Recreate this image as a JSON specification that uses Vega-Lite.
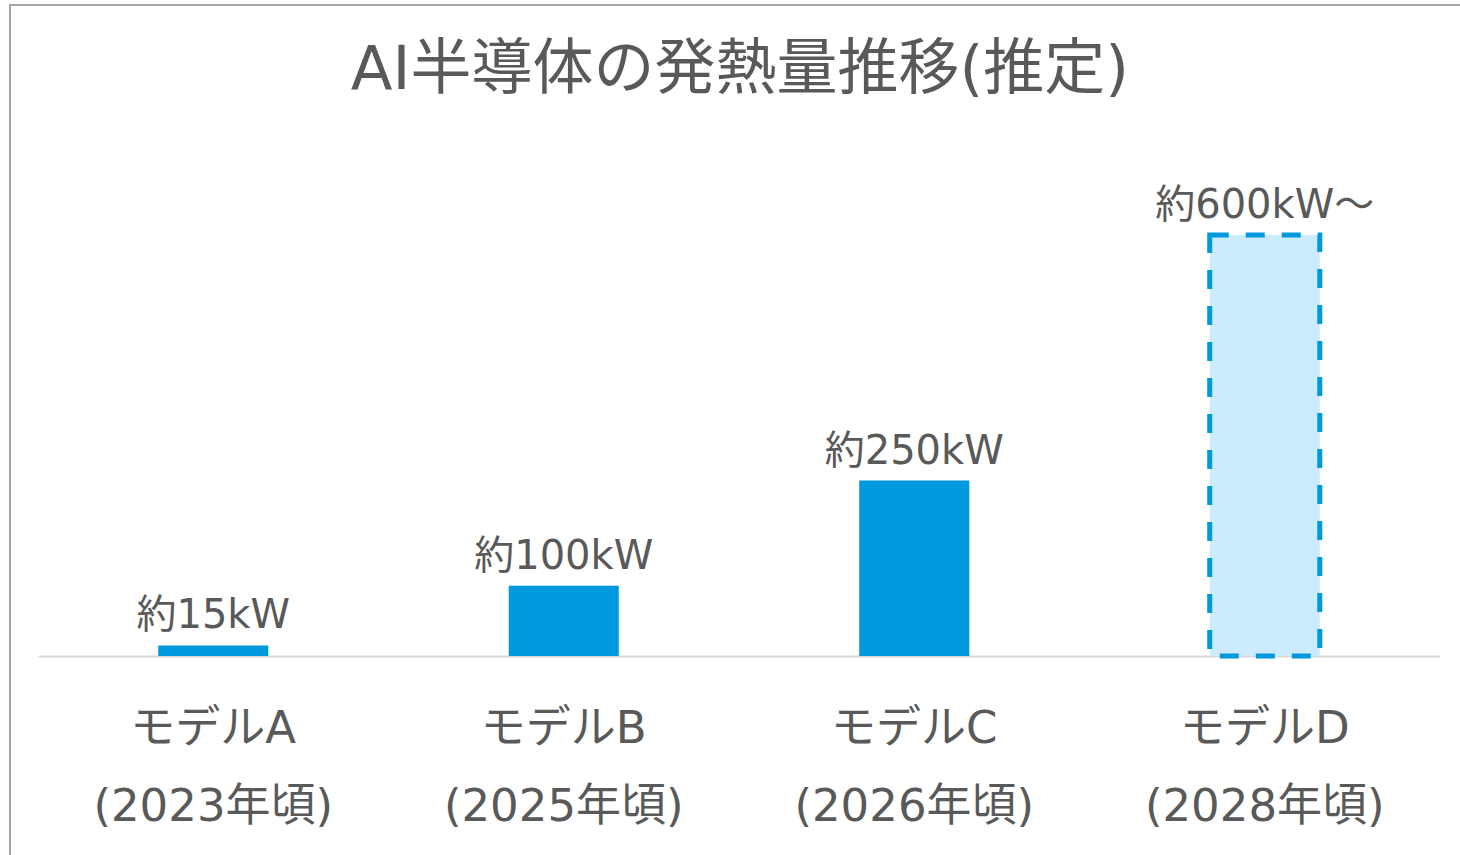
{
  "$schema": "https://vega.github.io/schema/vega-lite/v6.json",
  "autosize": {"type": "none"},
  "padding": {"left": 10, "top": 5, "right": 0, "bottom": 0},
  "width": 1460,
  "height": 860,
  "background": "white",
  "title": {
    "text": "AI半導体の発熱量推移(推定)",
    "font": "DejaVu Sans, Noto Sans CJK JP",
    "fontSize": 61,
    "fontWeight": "normal",
    "color": "#595959",
    "anchor": "middle",
    "frame": "group",
    "offset": -97
  },
  "config": {
    "view": {"stroke": "#a6a6a6", "strokeWidth": 2},
    "font": "DejaVu Sans, Noto Sans CJK JP"
  },
  "data": {
    "values": [
      {"label": "モデルA\n(2023年頃)", "kw": 15, "text": "約15kW", "estimate": false},
      {"label": "モデルB\n(2025年頃)", "kw": 100, "text": "約100kW", "estimate": false},
      {"label": "モデルC\n(2026年頃)", "kw": 250, "text": "約250kW", "estimate": false},
      {"label": "モデルD\n(2028年頃)", "kw": 600, "text": "約600kW～", "estimate": true}
    ]
  },
  "encoding": {
    "x": {
      "field": "label",
      "type": "nominal",
      "sort": null,
      "scale": {"range": [28, 1430], "paddingInner": 0.686, "paddingOuter": 0.343},
      "axis": {
        "title": null,
        "orient": "bottom",
        "offset": -209,
        "labelAngle": 0,
        "labelExpr": "split(datum.label, '\\n')",
        "labelFont": "DejaVu Sans, Noto Sans CJK JP",
        "labelFontSize": 45,
        "labelColor": "#595959",
        "labelLineHeight": 78,
        "labelBaseline": "top",
        "labelPadding": 50,
        "labelLimit": 0,
        "labelOverlap": false,
        "ticks": false,
        "domain": true,
        "domainColor": "#d9d9d9",
        "domainWidth": 2,
        "grid": false
      }
    },
    "y": {
      "field": "kw",
      "type": "quantitative",
      "scale": {"domain": [0, 600], "range": [651, 230], "nice": false, "zero": true},
      "axis": null
    }
  },
  "layer": [
    {
      "transform": [{"filter": "!datum.estimate"}],
      "mark": {"type": "bar", "color": "#0099dd"}
    },
    {
      "transform": [{"filter": "datum.estimate"}],
      "mark": {
        "type": "bar",
        "fill": "#ccebfc",
        "stroke": "#0099dd",
        "strokeWidth": 5,
        "strokeDash": [19, 17]
      }
    },
    {
      "mark": {
        "type": "text",
        "baseline": "alphabetic",
        "dy": -17,
        "fontSize": 40,
        "color": "#595959",
        "font": "DejaVu Sans, Noto Sans CJK JP"
      },
      "encoding": {"text": {"field": "text"}}
    }
  ]
}
